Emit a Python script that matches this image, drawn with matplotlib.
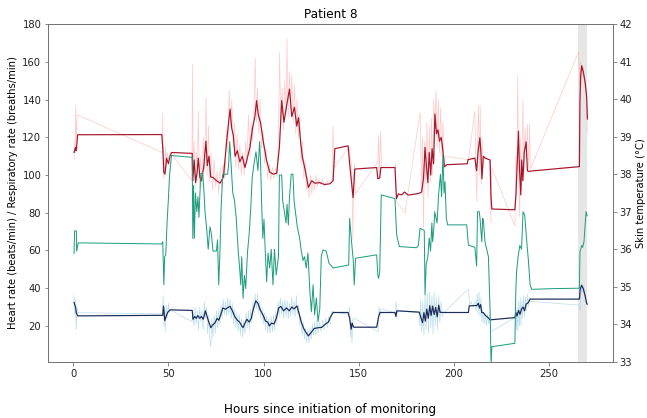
import numpy as np
import matplotlib
matplotlib.use("Agg")
import matplotlib.pyplot as plt

# heart rate, smoothed (hours, beats/min)
hr_s_t = [0.4, 1.2, 1.6, 2.3, 46.5, 47.0, 47.6, 48.2, 49.0, 50.0, 50.8, 51.7, 62.5, 62.8, 63.5, 64.3, 65.0, 65.7,
          66.5, 67.3, 68.5, 69.7, 70.4, 71.3, 72.2, 73.5, 75.3, 77.1, 78.9, 80.6, 81.5, 82.4, 83.2, 84.1, 85.0,
          86.2, 87.5, 88.8, 90.2, 91.4, 92.8, 94.2, 95.4, 96.3, 97.2, 98.4, 99.8, 101.5, 103.2, 105.0, 106.9,
          108.3, 109.5, 110.7, 112.1, 113.6, 114.8, 116.2, 117.4, 118.3, 119.5, 120.4, 122.0, 123.5, 125.2,
          127.0, 129.5, 132.0, 134.9, 136.5, 137.4, 144.4, 145.3, 147.0, 147.9, 159.4, 160.0, 161.0, 161.6,
          169.0, 169.8, 170.8, 172.5, 174.0, 176.0, 181.3, 183.0, 184.0, 184.8, 185.6, 186.3, 187.0, 187.8,
          188.5, 189.3, 190.0, 190.8, 191.6, 192.4, 193.3, 194.0, 195.0, 196.2, 207.0, 207.4, 211.0, 211.9,
          212.7, 213.6, 214.1, 214.7, 215.4, 216.3, 219.0, 219.4, 219.9, 232.0, 232.6, 233.3, 233.9, 234.4,
          235.1, 235.6, 236.2, 236.9, 237.9, 238.6, 239.1, 253.0, 265.9, 266.2, 266.6, 267.1, 268.0, 268.9,
          269.7, 270.1]
hr_s = [112, 114.7, 113, 121.4, 121.5, 115, 101.4, 100.5, 109, 106, 110, 112, 111.5, 97, 108, 96, 101, 109,
        99, 97, 104, 118, 105, 110, 99, 98.7, 97, 95.7, 99, 118, 127, 135, 125, 121, 110,
        113, 107, 110, 104, 109, 114.7, 125, 131, 139.5, 132, 127.7, 118, 108, 101.6, 100.5, 101,
        115, 139.5, 128, 137, 145.6, 131, 136, 126, 130.5, 117, 109.4, 102, 93.4, 97,
        95.7, 96, 95, 95.4, 97, 114, 115.5, 105, 88, 103.2, 104, 98, 98.5, 104,
        104, 87.5, 90, 89.5, 91, 89.4, 90.2, 91, 98.4, 114.7, 104, 96, 112, 100,
        114, 106, 132.4, 122, 124, 118, 120, 114.7, 104.4, 105.5, 106, 108.2, 109, 102.3,
        112.7, 119.8, 113, 98, 110, 109, 108, 89.5, 82, 81.6, 90, 108, 123.3, 104,
        89.5, 108, 97, 112, 117.6, 102.3, 102, 103.3, 104.5, 140, 153, 158, 154.5, 149.3,
        142, 129.8]

# heart rate, raw readings
hr_r_t = [0.4, 0.8, 1.0, 1.3, 1.6, 2.0, 46.8, 47.0, 47.3, 47.6, 48.0, 48.4, 48.8, 49.3, 50.0, 50.6, 51.0,
          62.3, 62.6, 63.0, 63.5, 64.0, 64.6, 65.2, 65.7, 66.3, 67.0, 67.6, 68.3, 69.0, 69.7, 70.3, 71.0,
          71.7, 72.4, 73.2, 74.0, 74.8, 75.6, 76.4, 77.2, 78.0, 78.8, 79.6, 80.4, 81.2, 81.9, 82.6, 83.3,
          84.0, 84.7, 85.4, 86.1, 86.8, 87.5, 88.3, 89.0, 89.8, 90.6, 91.3, 92.0, 92.8, 93.5, 94.2, 95.0,
          95.6, 96.2, 96.8, 97.5, 98.2, 98.9, 99.7, 100.5, 101.3, 102.1, 103.0, 103.8, 104.6, 105.5, 106.3,
          107.1, 107.8, 108.4, 109.0, 109.7, 110.4, 111.1, 111.8, 112.3, 112.9, 113.5, 114.2, 114.8, 115.5,
          116.2, 116.9, 117.6, 118.3, 119.0, 119.7, 120.4, 121.1, 121.8, 122.5, 123.2, 123.9, 124.6, 125.3,
          126.0, 126.8, 127.5, 128.3, 129.0, 130.0, 131.0, 132.0, 133.5, 135.0, 136.0, 136.4, 137.0, 145.0,
          145.5, 146.3, 146.9, 147.3, 147.9, 148.2, 160.0, 160.4, 160.8, 161.4, 162.0, 169.0, 169.3, 169.8,
          174.3, 182.2, 183.0, 183.5, 184.0, 184.6, 185.2, 185.8, 186.4, 187.0, 187.6, 188.2, 188.8, 189.4,
          190.0, 190.6, 191.2, 191.8, 192.4, 193.0, 193.6, 194.2, 194.8, 195.2, 207.6, 211.0, 211.5, 212.0,
          212.4, 212.9, 213.3, 213.8, 214.3, 214.8, 215.3, 216.0, 218.8, 219.4, 219.9, 232.0, 232.5, 233.0,
          233.5, 234.0, 234.5, 235.0, 235.5, 236.2, 236.8, 237.4, 238.0, 238.6, 239.2, 239.8, 240.1, 265.5,
          266.0, 266.6, 267.2, 267.8, 268.5, 269.2, 269.8, 270.1]
hr_r = [108, 118, 112, 137, 118, 132, 112, 133, 104, 98, 106, 115, 104, 112, 108, 111, 112,
        97, 159, 100, 118, 93, 112, 100, 134, 95, 110, 93, 120, 103, 141, 100, 126,
        96, 112, 92, 108, 94, 102, 90, 104, 93, 106, 98, 124, 112, 145, 126, 140,
        115, 128, 104, 122, 103, 116, 100, 112, 100, 118, 106, 132, 110, 128, 118, 136,
        162, 128, 146, 122, 140, 114, 124, 106, 114, 98, 106, 97, 104, 98, 104,
        99, 122, 165, 128, 146, 124, 150, 133, 172, 130, 155, 135, 153, 128,
        148, 122, 140, 120, 132, 106, 118, 98, 108, 92, 99, 88, 100, 90,
        98, 92, 100, 94, 98, 95, 98, 94, 97, 96, 98, 126, 104, 115,
        110, 104, 66, 100, 106, 90, 107, 121, 98, 123, 104, 104, 106, 86,
        80, 133, 90, 120, 72, 118, 95, 128, 88, 126, 96, 130, 100, 140,
        122, 145, 115, 140, 112, 136, 110, 128, 104, 110, 108.2, 134, 102, 86,
        120, 137, 100, 137, 95, 120, 104, 110, 108, 75, 104, 73, 110, 98,
        153, 100, 78, 120, 92, 140, 100, 125, 108, 127, 103, 127, 103, 165.5,
        148, 160, 152, 158, 150, 145, 135, 122]

# respiratory rate, smoothed (breaths/min)
rr_s_t = [0.4, 1.2, 1.6, 2.3, 47.0, 47.4, 47.8, 48.1, 48.8, 49.5, 50.8, 62.5, 62.9, 63.8, 64.6, 65.5, 66.4,
          67.3, 68.3, 69.4, 70.3, 71.2, 72.3, 73.2, 74.4, 75.6, 76.5, 77.5, 78.6, 80.0, 81.2, 82.4, 83.6,
          84.8, 86.2, 87.4, 88.5, 89.2, 90.0, 91.2, 92.4, 93.5, 94.6, 95.9, 97.0, 98.2, 99.6, 101.0, 102.2,
          103.0, 104.2, 105.5, 106.8, 107.9, 109.1, 110.5, 112.0, 113.5, 114.8, 116.0, 117.5, 118.5, 119.8,
          120.9, 121.7, 123.5, 125.0, 126.5, 128.5, 130.5, 132.5, 134.0, 135.0, 136.5, 144.4, 145.2, 146.0,
          146.5, 147.3, 159.4, 160.5, 161.2, 169.0, 169.5, 170.0, 181.8, 182.6, 183.5, 184.2, 185.0, 185.7,
          186.5, 187.3, 188.0, 188.8, 189.6, 190.4, 191.2, 192.0, 192.7, 194.9, 207.6, 208.0, 212.0, 212.8,
          213.4, 214.0, 214.6, 215.5, 216.3, 218.4, 219.0, 232.0, 232.6, 233.1, 233.9, 234.7, 235.5, 236.3,
          237.1, 237.9, 239.1, 240.0, 265.9, 266.3, 267.1, 268.0, 268.9, 269.6, 270.0]
rr_s = [32.4, 30, 27, 25.3, 25.6, 30.5, 26, 22.8, 25, 27, 28.5, 28.2, 23.5, 25, 24, 25.5, 24,
        25, 23.5, 28, 25, 22, 19, 20.5, 21.5, 24, 23, 26, 29.5, 28.8, 29.8, 30.3, 28,
        25, 23, 22, 20, 19.1, 21, 23.5, 22, 24, 29, 33.3, 32, 28.5, 26, 22.5, 22,
        20, 21.5, 21, 24.5, 29.5, 30.3, 28, 29.5, 28, 30, 29, 30.6, 27, 22,
        19, 17.4, 14.7, 16.5, 18.6, 19, 19.2, 21, 22, 24.5, 27.1, 27.1, 24, 18.2,
        21.5, 19.3, 19.3, 25.3, 27.1, 27.1, 25, 28, 27.3, 24.5, 21.7, 27, 22.5, 28.9,
        24, 30.7, 25.5, 30.5, 26, 29.8, 24.8, 31, 27.2, 27.1, 27.1, 30.6, 30.8, 32,
        29.5, 31.3, 27.1, 27.0, 25.8, 23.9, 23.2, 24.4, 27, 25.2, 28.2, 26.2, 29, 30,
        28, 31.5, 32.4, 34.2, 34.2, 39.5, 41.6, 39.5, 36, 32.4, 31.5]

# respiratory rate, raw readings
rr_r_t = [0.4, 0.8, 1.1, 1.5, 2.0, 2.3, 46.8, 47.2, 47.6, 48.0, 48.3, 48.8, 49.3, 50.0, 50.5, 51.0, 62.4,
          62.8, 63.4, 64.0, 64.6, 65.2, 65.8, 66.4, 67.0, 67.6, 68.2, 68.8, 69.4, 70.0, 70.6, 71.2, 71.8,
          72.3, 72.8, 73.4, 74.0, 74.6, 75.2, 75.8, 76.4, 77.0, 77.6, 78.2, 78.8, 79.4, 80.0, 80.6, 81.2,
          81.8, 82.4, 83.0, 83.6, 84.2, 84.8, 85.4, 86.0, 86.6, 87.2, 87.8, 88.4, 89.0, 89.6, 90.2, 90.8,
          91.4, 92.0, 92.6, 93.2, 93.8, 94.4, 95.0, 95.6, 96.2, 96.8, 97.4, 98.0, 98.6, 99.2, 99.8, 100.4,
          101.0, 101.6, 102.2, 102.8, 103.4, 104.0, 104.6, 105.2, 105.8, 106.4, 107.0, 107.6, 108.2, 108.8,
          109.4, 110.0, 110.6, 111.2, 111.8, 112.4, 113.0, 113.6, 114.2, 114.8, 115.4, 116.0, 116.6, 117.2,
          117.8, 118.4, 119.0, 119.6, 120.2, 120.8, 121.4, 122.0, 122.6, 123.2, 123.8, 124.4, 125.0, 125.6,
          126.2, 126.8, 127.4, 128.0, 128.6, 129.4, 130.2, 131.0, 131.8, 132.6, 133.4, 134.2, 135.0, 135.8,
          136.5, 144.6, 145.2, 145.6, 146.0, 146.4, 146.9, 147.6, 160.2, 160.6, 161.2, 161.6, 169.0, 169.6,
          170.0, 170.4, 181.5, 182.0, 182.5, 183.0, 183.6, 184.2, 184.8, 185.4, 186.0, 186.6, 187.2, 187.8,
          188.4, 189.0, 189.6, 190.2, 190.8, 191.4, 192.0, 192.6, 193.2, 193.8, 194.5, 207.6, 208.2, 209.0,
          210.0, 211.0, 211.6, 212.2, 212.7, 213.2, 213.7, 214.2, 214.7, 215.2, 215.8, 216.4, 217.0, 217.6,
          218.2, 218.8, 219.4, 232.0, 232.4, 232.8, 233.2, 233.6, 234.0, 234.4, 234.8, 235.2, 235.6, 236.0,
          236.5, 237.0, 237.5, 238.0, 238.5, 239.0, 239.5, 240.0, 265.9, 266.3, 266.7, 267.1, 267.6, 268.2,
          268.8, 269.4, 270.0]
rr_r = [36, 26, 34, 18, 30, 27, 26.4, 36, 20, 30, 17, 31, 24, 32, 27, 28.5, 22.2,
        28, 20, 30, 21, 28, 18, 30, 22, 28, 18, 33, 24, 30, 16, 26, 12,
        9, 24, 14, 26, 16, 28, 19, 29, 21, 31, 24, 34, 26, 33, 25, 35,
        26, 34, 24, 32, 21, 29, 19, 27, 17, 26, 15, 24, 14, 23, 16, 27,
        19, 28, 18, 29, 22, 33, 27, 37, 29, 37, 27, 33, 24, 30, 21, 27,
        18, 25, 16, 24, 16, 25, 17, 26, 18, 28, 21, 33, 25, 35,
        26, 33, 24, 34, 25, 33, 24, 32, 25, 35, 26, 33, 25, 36,
        26, 31, 20, 25, 15, 22, 13, 19, 11, 18, 11, 19, 13, 21,
        15, 22, 15, 23, 16, 22, 17, 23, 18, 24, 19, 25, 21, 28,
        27.5, 26, 30, 14, 22, 11, 24, 24, 17, 30, 25, 29, 27, 33,
        24, 28, 27, 20, 34, 17, 33, 15, 36, 18, 37, 16, 38, 19,
        36, 16, 38, 20, 35, 18, 36, 22, 33, 25, 27, 39.5, 31, 33,
        30, 33, 28, 37, 26, 38, 25, 35, 22, 29, 21, 27, 20, 26,
        21, 26, 17, 24.3, 30, 18, 30, 17, 33, 20, 35, 20, 33, 24,
        36, 25, 35, 28, 37, 30, 35, 33, 31, 28, 38, 40, 38, 41,
        36, 34, 32]

# skin temperature (deg C)
temp_t = [0.4, 0.7, 1.6, 1.8, 2.6, 46.4, 47.0, 47.6, 48.0, 48.6, 49.3, 49.9, 50.6, 51.6, 62.5, 62.8, 63.2,
          63.6, 64.2, 64.9, 65.5, 66.0, 67.0, 68.0, 68.6, 69.2, 70.0, 70.9, 71.8, 72.6, 73.4, 75.2, 75.8,
          76.4, 77.1, 77.6, 78.5, 81.1, 81.6, 82.2, 82.9, 83.8, 84.7, 85.5, 86.7, 87.4, 88.0, 88.5, 89.2,
          89.9, 90.6, 91.5, 92.4, 93.3, 94.0, 95.0, 96.0, 97.0, 97.9, 98.4, 99.1, 99.6, 100.2, 100.9, 101.6,
          102.3, 103.2, 104.0, 104.9, 105.7, 106.6, 107.8, 108.3, 109.5, 110.0, 110.9, 111.8, 112.3, 113.0,
          113.6, 114.5, 115.4, 116.0, 116.7, 117.7, 118.9, 119.8, 120.7, 121.5, 122.4, 123.3, 124.2, 125.1,
          126.0, 126.8, 127.7, 128.6, 129.5, 130.3, 131.2, 132.9, 134.4, 136.6, 144.7, 145.2, 146.2, 147.1,
          147.6, 148.3, 159.4, 160.0, 160.4, 161.0, 161.8, 169.0, 169.9, 171.3, 180.4, 181.3, 182.2, 184.4,
          184.8, 185.4, 186.3, 187.0, 187.7, 188.4, 188.8, 189.5, 189.9, 191.1, 192.0, 192.9, 193.5, 194.2,
          194.8, 195.3, 196.0, 196.7, 206.7, 207.6, 211.0, 211.9, 212.4, 213.3, 213.7, 214.6, 215.1, 215.5,
          216.3, 218.1, 219.0, 219.5, 219.9, 232.0, 232.5, 232.9, 233.7, 234.6, 235.5, 236.3, 237.2, 238.1,
          239.1, 240.0, 240.8, 253.1, 265.9, 266.2, 267.1, 267.6, 268.3, 268.9, 269.4, 270.0]
temp = [35.89, 36.49, 36.49, 35.95, 36.17, 36.14, 36.2, 35.05, 35.8, 35.85, 36.73, 37.27, 37.98, 38.5, 38.45,
        36.29, 37.7, 36.29, 37.5, 37.0, 37.4, 36.85, 38.02, 38.02, 37.6, 37.0, 36.6, 36.0, 36.6, 36.4,
        35.95, 35.95, 36.25, 35.05, 36.0, 37.0, 38.0, 38.0, 38.25, 38.87, 38.25, 37.5, 37.3, 36.9, 35.93,
        35.5, 35.05, 35.8, 34.69, 35.3, 34.95, 35.9, 36.4, 37.15, 37.9, 38.3, 38.6, 38.1, 38.87, 38.3,
        37.0, 36.29, 36.8, 35.9, 35.13, 35.9, 35.5, 36.0, 35.05, 36.0, 35.31, 35.8, 37.98, 37.98, 37.3,
        37.0, 36.7, 37.2, 36.65, 37.4, 38.0, 38.0, 37.3, 37.0, 36.6, 36.3, 35.95, 35.7, 35.8, 35.5,
        35.9, 34.96, 34.33, 35.05, 34.25, 34.7, 34.07, 34.4, 35.82, 35.98, 35.95, 35.62, 35.5, 35.58,
        36.82, 36.2, 35.7, 35.05, 35.76, 35.85, 35.31, 35.22, 35.4, 37.45, 37.35, 36.38, 36.07, 36.04,
        36.1, 36.56, 36.5, 34.78, 35.6, 35.8, 36.3, 35.95, 36.7, 36.2, 36.6, 37.0, 36.7, 37.5, 38.0,
        37.4, 38.51, 37.5, 37.8, 36.82, 36.65, 36.65, 36.11, 36.05, 35.55, 37.0, 37.0, 36.82, 36.2,
        36.82, 36.75, 36.2, 35.8, 34.33, 32.9, 33.4, 33.49, 34.9, 35.4, 35.8, 36.1, 36.0, 37.0, 36.9,
        36.3, 35.7, 35.05, 34.93, 34.95, 34.96, 35.93, 36.1, 36.05, 36.2, 36.62, 37.0, 36.89]

# window highlighted in grey
band = (265.4, 270.1)

fig = plt.figure(figsize=(647 / 72, 418 / 72), dpi=72)
ax = fig.add_axes([0.0747, 0.1347, 0.8723, 0.8072])
ax2 = ax.twinx()

ax.axvspan(band[0], band[1], color="#e6e6e6", zorder=0, lw=0)

ax.plot(hr_r_t, hr_r, color="#ff9c9c", lw=0.7, alpha=0.55, zorder=2)
ax.plot(hr_s_t, hr_s, color="#a6172d", lw=1.2, zorder=3)
ax.plot(rr_r_t, rr_r, color="#8ec8e0", lw=0.7, alpha=0.6, zorder=2)
ax.plot(rr_s_t, rr_s, color="#1c2b59", lw=1.2, zorder=3)
ax2.plot(temp_t, temp, color="#1f9e7e", lw=1.0)

ax.set_xlim(-13.1, 283.4)
ax.set_ylim(1, 180)
ax2.set_ylim(33, 42)
ax.set_xticks([0, 50, 100, 150, 200, 250])
ax.set_yticks([20, 40, 60, 80, 100, 120, 140, 160, 180])

ax.set_title("Patient 8", fontsize=12)
ax.set_ylabel("Heart rate (beats/min) / Respiratory rate (breaths/min)")
ax2.set_ylabel("Skin temperature (°C)")
ax.set_xlabel("Hours since initiation of monitoring", fontsize=12, labelpad=24)

for a in (ax, ax2):
    for s in a.spines.values():
        s.set_color("#707070")
    a.tick_params(colors="#707070", labelcolor="#222222")

fig.savefig("out.png", dpi=72)
